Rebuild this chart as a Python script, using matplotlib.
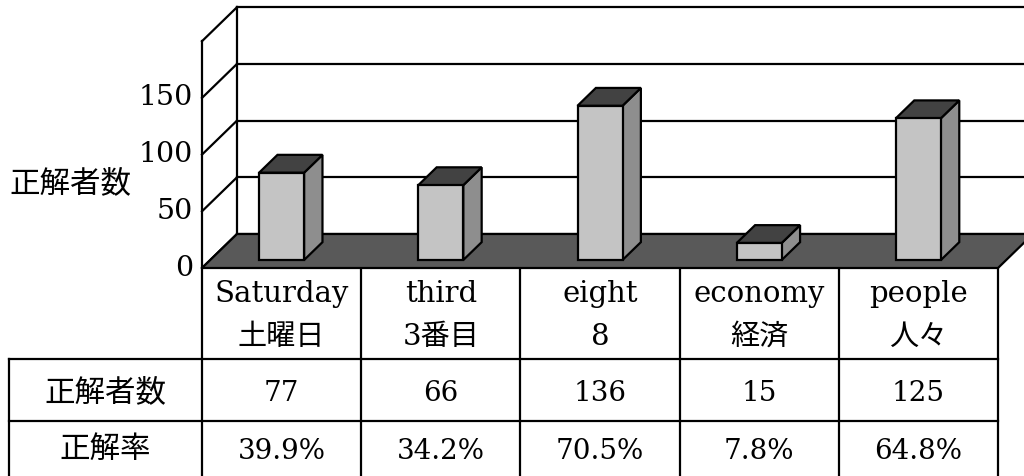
import matplotlib
matplotlib.use("Agg")
import matplotlib.pyplot as plt
from matplotlib.patches import Polygon
from matplotlib.lines import Line2D

# ---------------- data ----------------
categories_en = ["Saturday", "third", "eight", "economy", "people"]
categories_ja = ["土曜日", "3番目", "8", "経済", "人々"]
correct_counts = [77, 66, 136, 15, 125]
correct_rates = ["39.9%", "34.2%", "70.5%", "7.8%", "64.8%"]
y_ticks = [0, 50, 100, 150]
wall_top = 200
row_labels = ["正解者数", "正解率"]
y_label = "正解者数"

# ---------------- styling / layout ----------------
W, H = 1024, 476
FAM = ["DejaVu Serif", "Noto Sans CJK JP"]
plt.rcParams["font.family"] = FAM

fig = plt.figure(figsize=(W / 100, H / 100), dpi=100)
fig.patch.set_facecolor("white")

n = len(categories_en)
px_left, px_right, px_base = 202, 998, 268      # plot-area pixel layout
px_per_val = 1.134
col_w = (px_right - px_left) / n

ax = fig.add_axes([px_left / W, (H - px_base) / H, (px_right - px_left) / W, px_base / H])
ax.set_xlim(-0.5, n - 0.5)
ax.set_ylim(0, px_base / px_per_val)
ax.axis("off")

DX = 35 / col_w          # full depth, in category units
DY = 34 / px_per_val     # full depth, in value units


def P(x, v, d):
    return (x + d * DX, v + d * DY)


LW = 1.6
xl = -0.5
xr_far = n - 0.5 + 0.4

# back wall + gridlines
for v in y_ticks + [wall_top]:
    a = P(xl, v, 1)
    ax.add_line(Line2D([a[0], xr_far], [a[1], a[1]], color="black", lw=LW, clip_on=False, zorder=1))
    b = P(xl, v, 0)
    ax.add_line(Line2D([b[0], a[0]], [b[1], a[1]], color="black", lw=LW, clip_on=False, zorder=1))
a0, a1 = P(xl, 0, 1), P(xl, wall_top, 1)
ax.add_line(Line2D([a0[0], a1[0]], [a0[1], a1[1]], color="black", lw=LW, clip_on=False, zorder=1))
b0, b1 = P(xl, 0, 0), P(xl, wall_top, 0)
ax.add_line(Line2D([b0[0], b1[0]], [b0[1], b1[1]], color="black", lw=LW, clip_on=False, zorder=4))

# floor
floor = Polygon([P(xl, 0, 0), P(n - 0.5, 0, 0), P(n - 0.5, 0, 1), P(xl, 0, 1)],
                closed=True, facecolor="#595959", edgecolor="black", lw=LW, clip_on=False, zorder=2)
ax.add_patch(floor)

# tick labels
for v in y_ticks:
    ax.text(xl - 9 / col_w, v, str(v), ha="right", va="center", fontsize=20.5,
            family=FAM, clip_on=False)
fig.text(70 / W, 1 - 184 / H, y_label, ha="center", va="center", fontsize=22, family=FAM)

# 3-D bars
w = 45 / col_w
d0, d1 = 0.235, 0.76
for i, v in enumerate(correct_counts):
    xa = i - w / 2 - d0 * DX
    xb = xa + w
    front = [P(xa, 0, d0), P(xb, 0, d0), P(xb, v, d0), P(xa, v, d0)]
    side = [P(xb, 0, d0), P(xb, 0, d1), P(xb, v, d1), P(xb, v, d0)]
    top = [P(xa, v, d0), P(xb, v, d0), P(xb, v, d1), P(xa, v, d1)]
    for poly, fc in ((side, "#8e8e8e"), (top, "#424242"), (front, "#c4c4c4")):
        ax.add_patch(Polygon(poly, closed=True, facecolor=fc, edgecolor="black",
                             lw=LW, joinstyle="miter", zorder=3))

# ---------------- data table ----------------
tax = fig.add_axes([0, 0, 1, 1], zorder=-1)
tax.set_xlim(0, W)
tax.set_ylim(H, 0)
tax.axis("off")

row_y = [268, 359, 421, 476]
left_x = 9
edges = [px_left + k * col_w for k in range(n + 1)]
for x in edges:
    tax.plot([x, x], [row_y[0], row_y[-1]], color="black", lw=LW)
tax.plot([left_x, left_x], [row_y[1], row_y[-1]], color="black", lw=LW)
for y in row_y[1:3]:
    tax.plot([left_x, px_right], [y, y], color="black", lw=LW)

for i in range(n):
    cx = px_left + (i + 0.5) * col_w
    tax.text(cx, 302, categories_en[i], ha="center", va="baseline", fontsize=21, family=FAM)
    tax.text(cx, 337, categories_ja[i], ha="center", va="center", fontsize=21, family=FAM)
    tax.text(cx, 401, str(correct_counts[i]), ha="center", va="baseline", fontsize=20, family=FAM)
    tax.text(cx, 459, correct_rates[i], ha="center", va="baseline", fontsize=20, family=FAM)

lab_cx = (left_x + px_left) / 2
tax.text(lab_cx, 393, row_labels[0], ha="center", va="center", fontsize=22, family=FAM)
tax.text(lab_cx, 449, row_labels[1], ha="center", va="center", fontsize=22, family=FAM)

fig.savefig("out.png", dpi=100, facecolor="white")
